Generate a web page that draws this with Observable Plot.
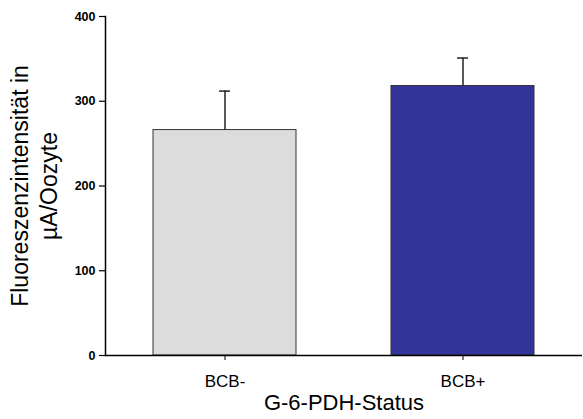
<!DOCTYPE html>
<html>
<head>
<meta charset="utf-8">
<script src="https://cdn.jsdelivr.net/npm/d3@7"></script>
<script src="https://cdn.jsdelivr.net/npm/@observablehq/plot@0.6"></script>
<style>
  html, body { margin: 0; padding: 0; background: #fff; }
  #chart { width: 583px; height: 419px; }
</style>
</head>
<body>
<div id="chart"></div>
<script>
const categories = ["BCB-", "BCB+"];
const means = [266, 318];
const errors = [46, 33];
const fills = ["#dcdcdc", "#333399"];
const yTicks = [0, 100, 200, 300, 400];
const yLabelLines = ["Fluoreszenzintensität in", "µA/Oozyte"];
const xLabel = "G-6-PDH-Status";

const data = categories.map((c, i) => ({cat: c, mean: means[i], top: means[i] + errors[i], fill: fills[i]}));

const W = 583, H = 419, mL = 105, mR = 1, mT = 16, mB = 64;
const step = (W - mL - mR) / (2 - 0.4 + 0.4);
const bw = step * 0.6;
const capInset = (bw - 11) / 2;
const font = "Liberation Sans, Arial, Helvetica, sans-serif";

const chart = Plot.plot({
  width: W,
  height: H,
  marginLeft: mL,
  marginRight: mR,
  marginTop: mT,
  marginBottom: mB,
  style: {fontFamily: font, background: "#fff", color: "#000"},
  x: {domain: categories, paddingInner: 0.4, paddingOuter: 0.2, label: null},
  y: {domain: [0, 400], label: null},
  marks: [
    Plot.barY(data, {x: "cat", y: "mean", fill: "fill", stroke: "#333", strokeWidth: 1}),
    Plot.ruleX(data, {x: "cat", y1: "mean", y2: "top", stroke: "#222", strokeWidth: 1.5}),
    Plot.tickY(data, {x: "cat", y: "top", stroke: "#222", strokeWidth: 1.5, insetLeft: capInset, insetRight: capInset}),
    Plot.ruleY([0], {stroke: "#000", strokeWidth: 1.5}),
    Plot.frame({anchor: "left", stroke: "#000", strokeWidth: 1.5}),
    Plot.axisY({ticks: yTicks, tickSize: 6, tickPadding: 4, fontSize: 12.5, fontWeight: "bold", label: null, stroke: "#000", strokeWidth: 1.2}),
    Plot.axisX({tickSize: 5, tickPadding: 14, fontSize: 17, label: null, stroke: "#000"}),
    Plot.text([yLabelLines[0]], {text: d => d, frameAnchor: "left", textAnchor: "middle", rotate: -90, dx: -84.5, fontSize: 23}),
    Plot.text([yLabelLines[1]], {text: d => d, frameAnchor: "left", textAnchor: "middle", rotate: -90, dx: -55.5, fontSize: 23}),
    Plot.text([xLabel], {text: d => d, frameAnchor: "bottom", dy: 54, fontSize: 22})
  ]
});
document.getElementById("chart").appendChild(chart);
</script>
</body>
</html>
